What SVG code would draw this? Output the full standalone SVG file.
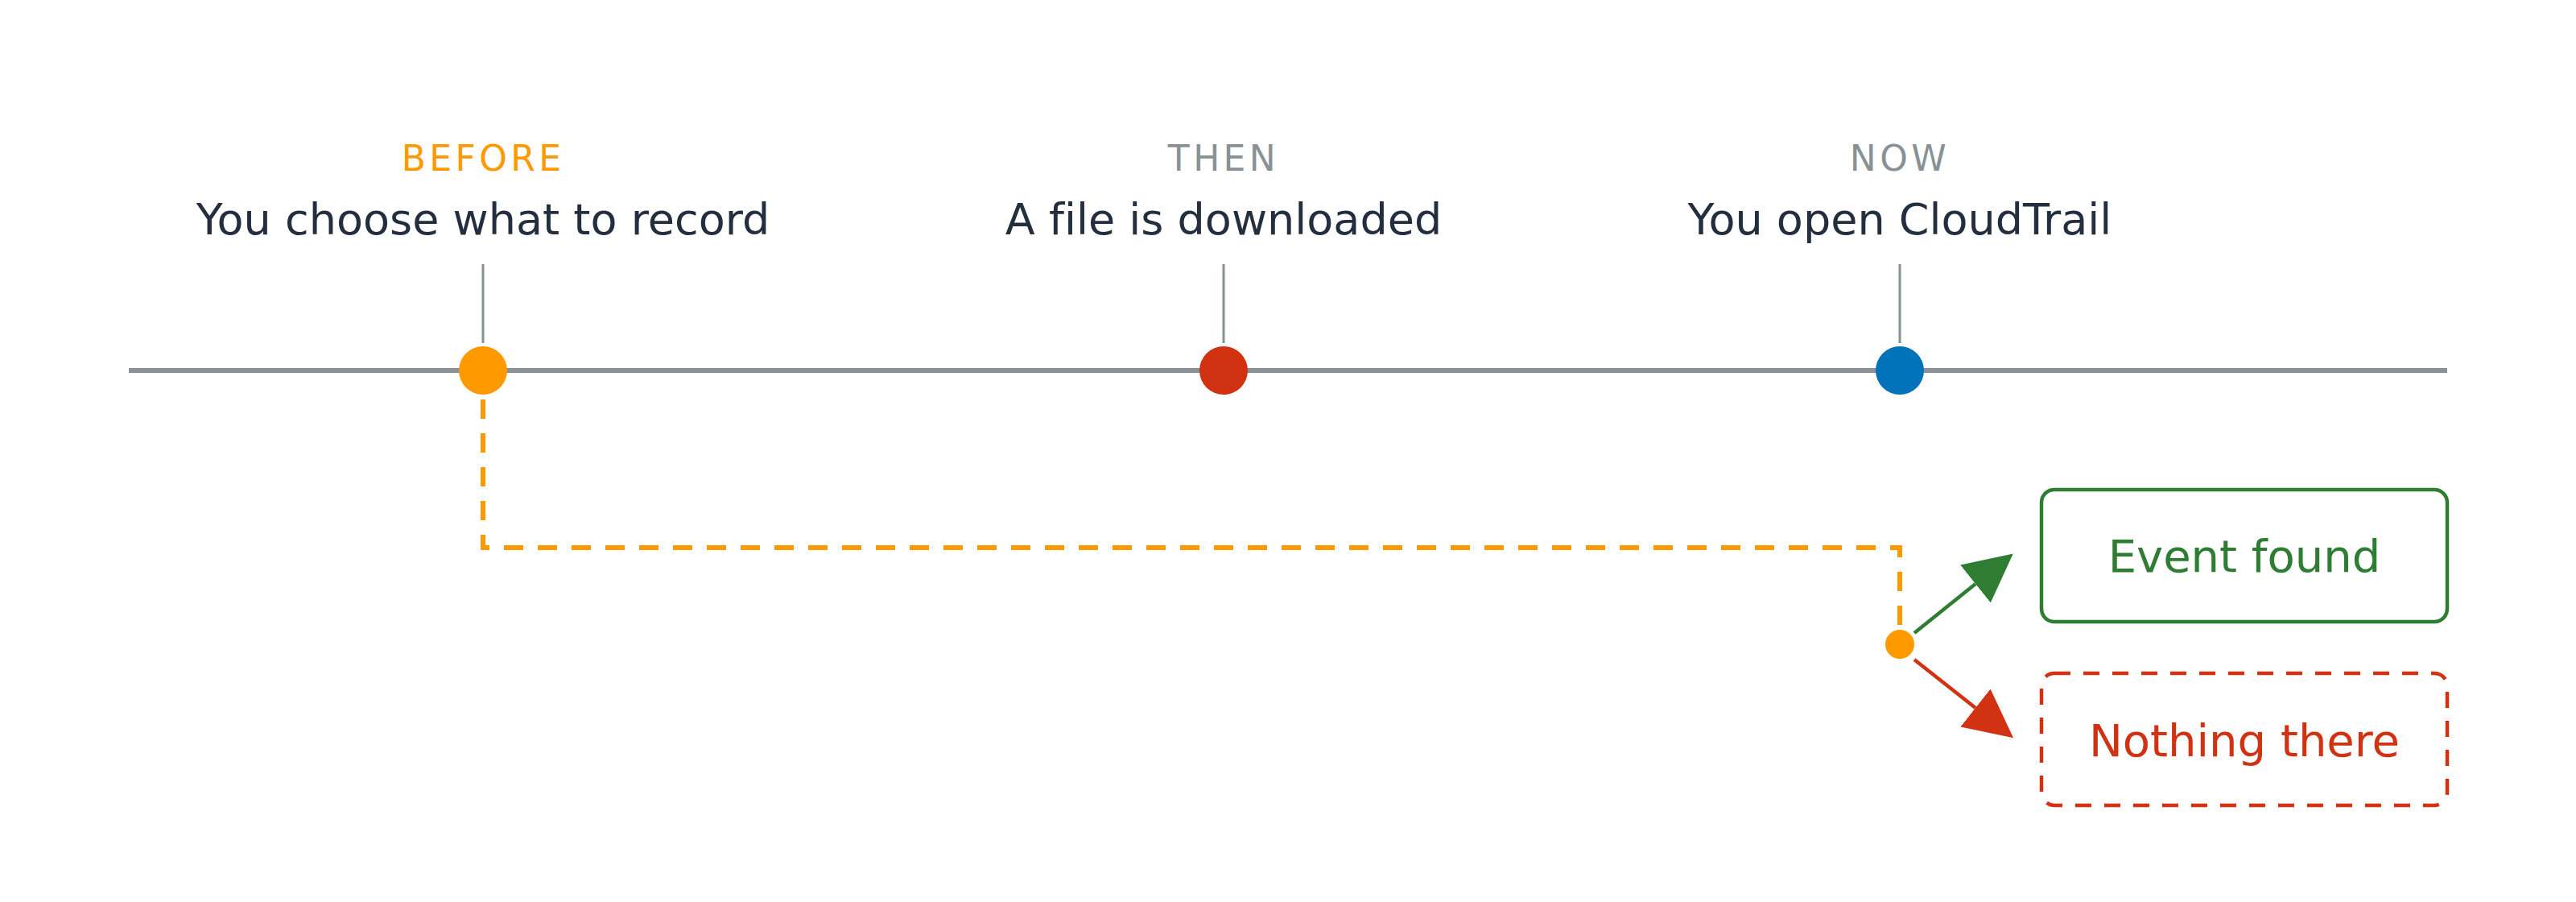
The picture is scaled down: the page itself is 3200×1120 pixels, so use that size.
<svg xmlns="http://www.w3.org/2000/svg" width="3200" height="1120" viewBox="0 0 3200 1120">
  <style>
    text { font-family: "DejaVu Sans", "Noto Sans", sans-serif; text-anchor: middle; font-variant-ligatures: none; }
    .lbl { font-size: 44px; letter-spacing: 4.4px; }
    .ttl { font-size: 54px; fill: #232F3E; }
    .box { font-size: 56px; }
    .tick { stroke: #879196; stroke-width: 3; }
  </style>
  <defs>
    <marker id="arrG" viewBox="0 0 10 10" refX="0" refY="5" markerWidth="60" markerHeight="60" markerUnits="userSpaceOnUse" orient="auto">
      <path d="M0,0 L10,5 L0,10 z" fill="#2E7D32"/>
    </marker>
    <marker id="arrR" viewBox="0 0 10 10" refX="0" refY="5" markerWidth="60" markerHeight="60" markerUnits="userSpaceOnUse" orient="auto">
      <path d="M0,0 L10,5 L0,10 z" fill="#D13212"/>
    </marker>
  </defs>
  <rect width="3200" height="1120" fill="#FFFFFF"/>

  <g id="timeline">
    <line x1="160" y1="460" x2="3040" y2="460" stroke="#879196" stroke-width="6"/>
  </g>

  <g id="connectors">
    <path d="M600,496 V680 H2360 V782" fill="none" stroke="#FF9900" stroke-width="6" stroke-dasharray="24 18"/>
    <line x1="2378" y1="786" x2="2454" y2="725" stroke="#2E7D32" stroke-width="4.5" marker-end="url(#arrG)"/>
    <line x1="2378" y1="819" x2="2454" y2="879" stroke="#D13212" stroke-width="4.5" marker-end="url(#arrR)"/>
  </g>

  <g id="before">
    <text class="lbl" x="600" y="212" fill="#FF9900">BEFORE</text>
    <text class="ttl" x="600" y="291">You choose what to record</text>
    <line class="tick" x1="600" y1="328" x2="600" y2="426"/>
    <circle cx="600" cy="460" r="30" fill="#FF9900"/>
  </g>

  <g id="then">
    <text class="lbl" x="1520" y="212" fill="#879196">THEN</text>
    <text class="ttl" x="1520" y="291">A file is downloaded</text>
    <line class="tick" x1="1520" y1="328" x2="1520" y2="426"/>
    <circle cx="1520" cy="460" r="30" fill="#D13212"/>
  </g>

  <g id="now">
    <text class="lbl" x="2360" y="212" fill="#879196">NOW</text>
    <text class="ttl" x="2360" y="291">You open CloudTrail</text>
    <line class="tick" x1="2360" y1="328" x2="2360" y2="426"/>
    <circle cx="2360" cy="460" r="30" fill="#0073BB"/>
  </g>

  <g id="check">
    <circle cx="2360" cy="800" r="18" fill="#FF9900"/>
  </g>

  <g id="event-found">
    <rect x="2536" y="608" width="504" height="164" rx="16" fill="#FFFFFF" stroke="#2E7D32" stroke-width="4.5"/>
    <text class="box" x="2788" y="710" fill="#2E7D32">Event found</text>
  </g>

  <g id="nothing-there">
    <rect x="2536" y="836" width="504" height="164" rx="16" fill="#FFFFFF" stroke="#D13212" stroke-width="4.5" stroke-dasharray="20 16"/>
    <text class="box" x="2788" y="939" fill="#D13212">Nothing there</text>
  </g>
</svg>
